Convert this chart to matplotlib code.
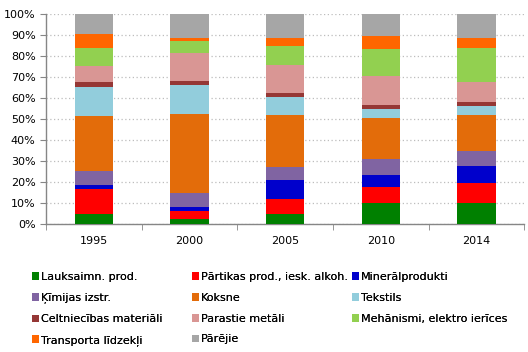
import numpy as np
import matplotlib.pyplot as plt
from matplotlib.ticker import PercentFormatter

plt.rcParams.update({
    "font.family": "DejaVu Sans",
    "font.size": 8,
})

# ============================================================
# Data (share of exports, %)
# ============================================================

YEARS = ["1995", "2000", "2005", "2010", "2014"]

GROUPS = [
    "Lauksaimn. prod.",
    "Pārtikas prod., iesk. alkoh.",
    "Minerālprodukti",
    "Ķīmijas izstr.",
    "Koksne",
    "Tekstils",
    "Celtniecības materiāli",
    "Parastie metāli",
    "Mehānismi, elektro ierīces",
    "Transporta līdzekļi",
    "Pārējie",
]

LAUKSAIMN = [4.9, 2.1, 4.9, 10.0, 9.7]
PARTIKAS = [11.5, 3.8, 7.0, 7.7, 9.6]
MINERAL = [1.9, 2.2, 9.1, 5.7, 8.4]
KIMIJAS = [6.7, 6.7, 5.9, 7.5, 7.2]
KOKSNE = [26.1, 37.3, 24.7, 19.3, 16.7]
TEKSTILS = [13.9, 13.8, 8.6, 4.3, 4.3]
CELTN = [2.4, 1.9, 1.9, 1.9, 1.9]
METALI = [7.6, 13.4, 13.5, 13.8, 9.6]
MEHANISMI = [8.6, 5.7, 9.0, 12.9, 16.2]
TRANSPORTS = [6.7, 1.5, 3.8, 6.2, 4.8]
PAREJIE = [9.7, 11.6, 11.6, 10.7, 11.6]

SERIES = [LAUKSAIMN, PARTIKAS, MINERAL, KIMIJAS, KOKSNE, TEKSTILS,
          CELTN, METALI, MEHANISMI, TRANSPORTS, PAREJIE]

COLORS = ["#008000", "#ff0000", "#0000cc", "#8064a2", "#e36c0a",
          "#92cddc", "#953735", "#d99694", "#92d050", "#ff6600",
          "#a6a6a6"]

# ============================================================
# Figure
# ============================================================

fig = plt.figure(figsize=(5.28, 3.52), dpi=100)
ax = fig.add_axes([0.087, 0.364, 0.906, 0.597])

data = np.array(SERIES, dtype=float)
data = data / data.sum(axis=0) * 100
x = np.arange(len(YEARS))
bottom = np.zeros(len(YEARS))

for name, vals, col in zip(GROUPS, data, COLORS):
    ax.bar(x, vals, width=0.4, bottom=bottom, color=col,
           label=name, zorder=3)
    bottom += vals

ax.set_xlim(-0.5, len(YEARS) - 0.5)
ax.set_ylim(0, 100)
ax.set_yticks(np.arange(0, 101, 10))
ax.yaxis.set_major_formatter(PercentFormatter(decimals=0))
ax.set_xticks(x)
ax.set_xticklabels(YEARS)
ax.set_xticks(np.arange(-0.5, len(YEARS), 1), minor=True)

ax.grid(axis="y", color="#bdbdbd", linestyle=(0, (1, 2)),
        linewidth=0.9, zorder=0)

for side in ["top", "right"]:
    ax.spines[side].set_visible(False)
for side in ["left", "bottom"]:
    ax.spines[side].set_color("#868686")
    ax.spines[side].set_linewidth(1)

ax.tick_params(axis="y", colors="#868686", length=4, labelcolor="black",
               labelsize=8)
ax.tick_params(axis="x", which="major", length=0, pad=9, labelsize=8)
ax.tick_params(axis="x", which="minor", colors="#868686", length=4)

# legend: 3 fixed-width columns, filled row by row
handles, labels = ax.get_legend_handles_labels()
col_x = [0.060, 0.363, 0.666]
for c in range(3):
    idx = list(range(c, len(handles), 3))
    leg = fig.legend(
        [handles[i] for i in idx], [labels[i] for i in idx],
        loc="upper left",
        bbox_to_anchor=(col_x[c], 0.228),
        ncol=1,
        frameon=False,
        fontsize=8,
        handlelength=0.7,
        handleheight=0.7,
        handletextpad=0.1,
        labelspacing=0.98,
        borderaxespad=0,
        borderpad=0,
    )
    fig.add_artist(leg)

plt.savefig("out.png", dpi=100)
plt.close()
